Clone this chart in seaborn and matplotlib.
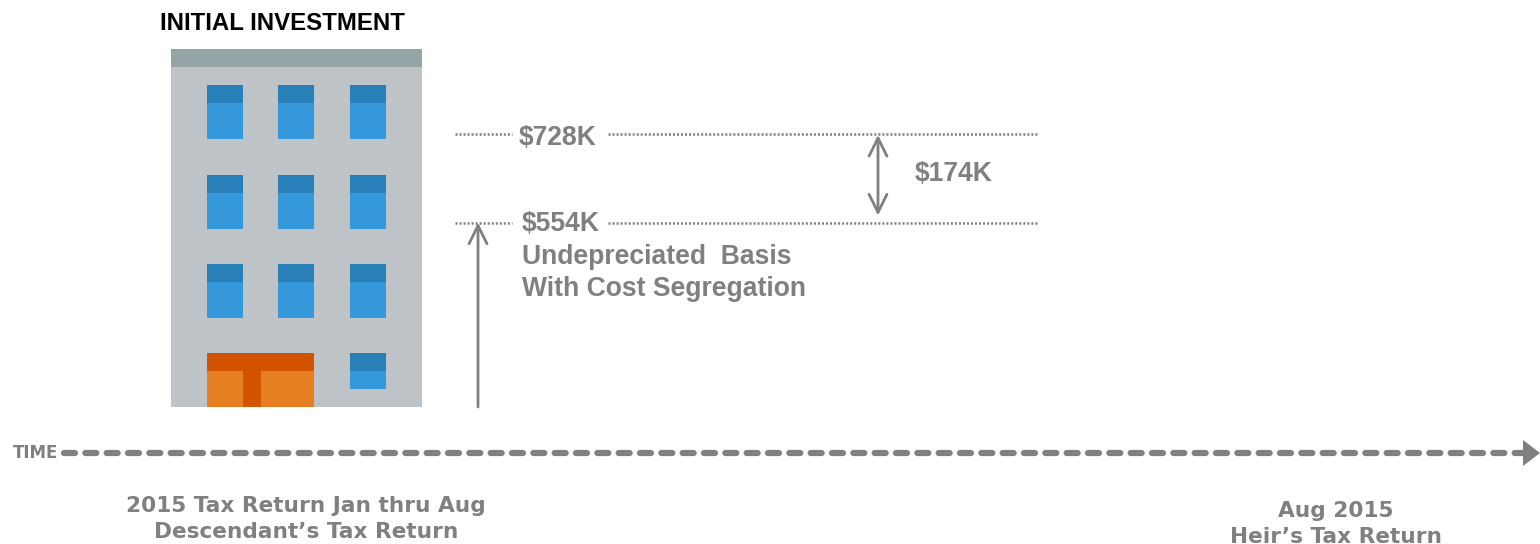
import matplotlib
matplotlib.use("Agg")
import matplotlib.pyplot as plt
from matplotlib.patches import Rectangle, Polygon
import pandas as pd
import seaborn as sns

# Basis levels, in thousands of dollars
level_names = ["with_step_up", "without_step_up"]
level_values = [728, 554]
step_up_value = 174

level_labels = ["$728K", "$554K"]
step_up_label = "$174K"
basis_label = ["Undepreciated  Basis", "With Cost Segregation"]
title_text = "INITIAL INVESTMENT"
axis_label = "TIME"
left_caption = ["2015 Tax Return Jan thru Aug", "Descendant\u2019s Tax Return"]
right_caption = ["Aug 2015", "Heir\u2019s Tax Return"]

GREY = "#808080"
ROOF, WALL = "#95A5A6", "#BDC3C7"
PANE, PANE_DARK = "#3498DB", "#2980B9"
DOOR, DOOR_DARK = "#E67E22", "#D35400"

sns.set_theme(style="white")
plt.rcParams["font.family"] = ["Liberation Sans", "DejaVu Sans"]
plt.rcParams["lines.scale_dashes"] = False

W, H = 1540, 544
fig = plt.figure(figsize=(W / 100, H / 100), dpi=100, facecolor="white")

# Layout axes measured in figure pixels, for the building and the timeline
ax = fig.add_axes([0, 0, 1, 1])
ax.set_xlim(0, W)
ax.set_ylim(H, 0)
ax.axis("off")

# Value axes in $K sharing the same horizontal scale
y_728, y_554 = 133.5, 222.5
per_px = (level_values[0] - level_values[1]) / (y_554 - y_728)
val = fig.add_axes([0, 0, 1, 1], sharex=ax)
val.set_ylim(level_values[1] - (H - y_554) * per_px, level_values[0] + y_728 * per_px)
val.axis("off")
val.patch.set_alpha(0)


def block(x0, y0, x1, y1, color):
    ax.add_patch(Rectangle((x0, y0), x1 - x0, y1 - y0, fc=color, ec="none"))


# Building
block(171, 49, 422, 407, WALL)
block(171, 49, 422, 67, ROOF)
for top in (85, 175, 264):
    for left in (207, 278, 350):
        block(left, top, left + 36, top + 54, PANE)
        block(left, top, left + 36, top + 18, PANE_DARK)
block(350, 353, 386, 389, PANE)
block(350, 353, 386, 371, PANE_DARK)
block(207, 353, 314, 407, DOOR)
block(207, 353, 314, 371, DOOR_DARK)
block(243, 371, 261, 407, DOOR_DARK)

# Dotted basis levels, broken around their labels
for name, value in zip(level_names, level_values):
    for x0, x1 in ((455, 512), (608, 1038)):
        seg = pd.DataFrame({"x": [x0, x1], "y": [value, value]})
        sns.lineplot(data=seg, x="x", y="y", ax=val, color=GREY, lw=1.8,
                     linestyle=(0, (1.45, 1.45)), errorbar=None, legend=False)
val.set_xlabel("")
val.set_ylabel("")
val.set_xlim(0, W)

# Arrows up to the basis and across the step-up
open_head = "head_length=0.87,head_width=0.43"
val.annotate("", xy=(478, level_values[1]), xycoords="data",
             xytext=(478, 407), textcoords=ax.transData,
             arrowprops=dict(arrowstyle="->," + open_head, color=GREY, lw=2.0,
                             shrinkA=0, shrinkB=0, mutation_scale=15))
val.annotate("", xy=(878, level_values[0] - step_up_value), xytext=(878, level_values[0]),
             arrowprops=dict(arrowstyle="<->," + open_head, color=GREY, lw=2.0,
                             shrinkA=1, shrinkB=5, mutation_scale=15))

# Timeline
dash = (0, (7.9, 7.46))
ax.plot([64, 1524], [453, 453], color=GREY, lw=4.5, linestyle=dash, dash_capstyle="round")
ax.add_patch(Polygon([(1523, 440), (1540, 453), (1523, 466)], fc=GREY, ec="none"))

# Text
bold = dict(fontweight="bold", color=GREY, va="center")
ax.text(160, 23.5, title_text, fontsize=17.3, fontweight="bold", color="black", va="center")
ax.text(519, 137.5, level_labels[0], fontsize=19.1, **bold)
ax.text(522, 223.5, level_labels[1], fontsize=19.1, **bold)
ax.text(915, 173.5, step_up_label, fontsize=19.1, **bold)
ax.text(522, 256.5, basis_label[0], fontsize=19.1, **bold)
ax.text(522, 288.5, basis_label[1], fontsize=19.1, **bold)
ax.text(13, 453.5, axis_label, fontsize=12, family=["DejaVu Sans"], **bold)

caption = dict(fontweight="bold", color=GREY, va="center", ha="center", fontsize=15.6,
               family=["DejaVu Sans"])
ax.text(306, 506.5, left_caption[0], **caption)
ax.text(306, 532, left_caption[1], **caption)
ax.text(1336, 511, right_caption[0], **caption)
ax.text(1336, 537, right_caption[1], **caption)

fig.savefig("out.png", dpi=100, facecolor="white")
